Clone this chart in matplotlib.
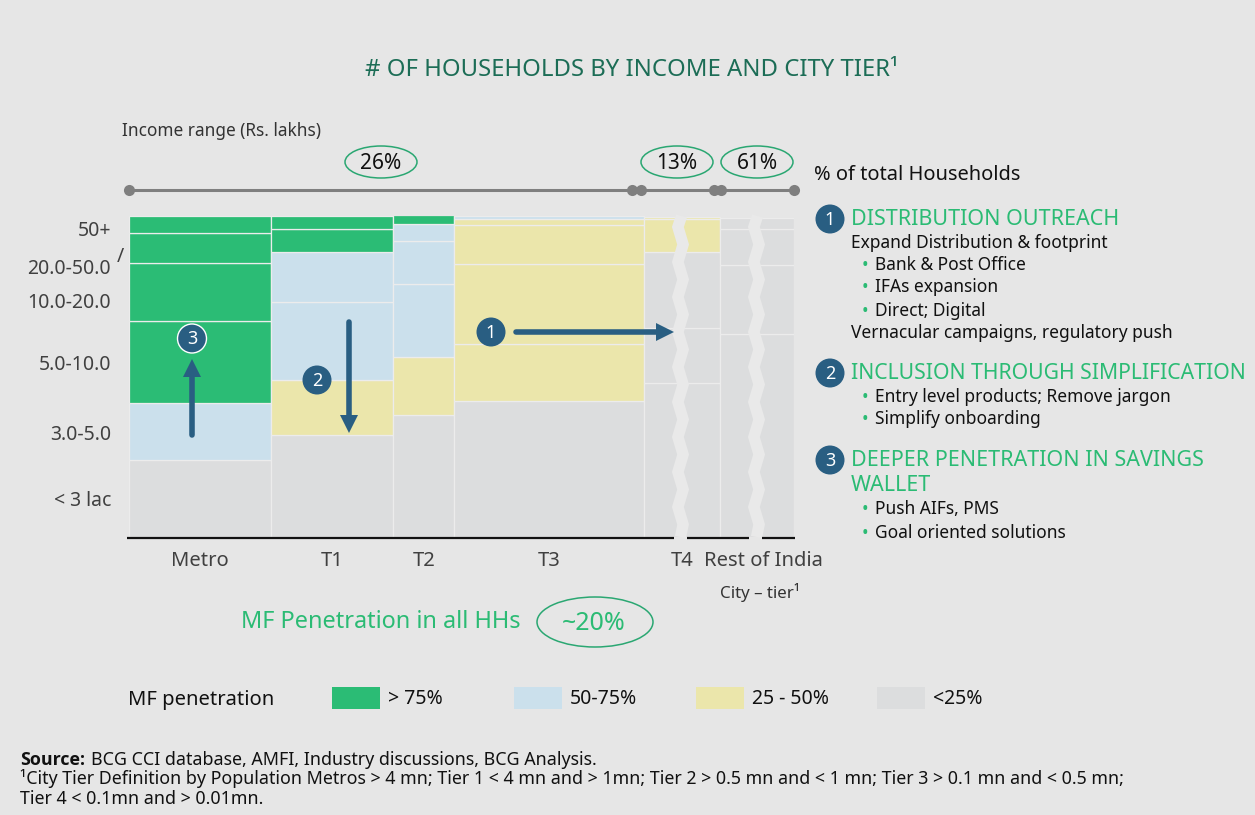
import matplotlib
matplotlib.use('Agg')
import matplotlib.pyplot as plt
from matplotlib.patches import Ellipse, Circle, Rectangle

plt.rcParams['font.family'] = ['Noto Sans', 'DejaVu Sans']

# column widths and stacked shares (bottom to top, % of column height)
cities = ['Metro', 'T1', 'T2', 'T3', 'T4', 'Rest of India']
widths = [141.5, 122, 61.5, 189.5, 76.5, 74]
metro = [23.7, 17.8, 25.5, 18.1, 9.3, 5.6]
t1 = [31.5, 17.4, 24.0, 15.6, 7.2, 4.3]
t2 = [38.0, 18.0, 22.7, 13.4, 5.2, 2.7]
t3 = [42.1, 18.0, 24.9, 12.1, 1.9, 1.0]
t4 = [47.7, 17.4, 23.5, 10.4, 0.6]
rest = [63.2, 21.5, 11.2, 3.4]
metro_bands = ['d', 'c', 'a', 'a', 'a', 'a']
t1_bands = ['d', 'b', 'c', 'c', 'a', 'a']
t2_bands = ['d', 'b', 'c', 'c', 'c', 'a']
t3_bands = ['d', 'b', 'b', 'b', 'b', 'c']
t4_bands = ['d', 'd', 'd', 'b', 'b']
rest_bands = ['d', 'd', 'd', 'd']

income_labels = ['50+', '20.0-50.0', '10.0-20.0', '5.0-10.0', '3.0-5.0', '< 3 lac']
income_y = [229, 267, 302, 363, 434, 500]
share_labels = ['26%', '13%', '61%']
legend_labels = ['> 75%', '50-75%', '25 - 50%', '<25%']

BG = '#e6e6e6'
GREEN = '#2bbb74'
DARK = '#295e82'
band_colors = {'a': '#2bbc75', 'c': '#cbe0ec', 'b': '#ebe6ab', 'd': '#dcddde'}
legend_colors = ['#2bbc75', '#cbe0ec', '#ebe6ab', '#dcddde']

fig = plt.figure(figsize=(12.55, 8.15), dpi=100, facecolor=BG)

# marimekko
ax = fig.add_axes([129 / 1255, 1 - 536.5 / 815, 665 / 1255, 321 / 815])
ax.set_xlim(0, 665)
ax.set_ylim(0, 100)
ax.axis('off')
left = 0
for w, vals, bands in zip(widths, [metro, t1, t2, t3, t4, rest],
                          [metro_bands, t1_bands, t2_bands, t3_bands, t4_bands, rest_bands]):
    bottom = 0
    for v, b in zip(vals, bands):
        ax.bar(left, v, width=w, bottom=bottom, align='edge', color=band_colors[b],
               edgecolor='#ececec', linewidth=0.9)
        bottom += v
    left += w

# pixel overlay for annotations
ov = fig.add_axes([0, 0, 1, 1], facecolor='none')
ov.set_xlim(0, 1255)
ov.set_ylim(815, 0)
ov.axis('off')


def txt(x, y, s, size=13, color='#111111', ha='left', **kw):
    return ov.text(x, y + 1.5, s, fontsize=size, color=color, ha=ha, va='center', **kw)


def badge(x, y, n, edge=BG, lw=0):
    ov.add_patch(Circle((x, y), 14.5, facecolor=DARK, edgecolor=edge, linewidth=lw, zorder=6))
    ov.text(x, y + 1, n, fontsize=13, color='white', ha='center', va='center', zorder=7)


def arrow(x0, y0, x1, y1):
    # straight shaft with a flat triangular head, 18 px long and wide
    dx = (x1 > x0) - (x1 < x0)
    dy = (y1 > y0) - (y1 < y0)
    bx, by = x1 - 18 * dx, y1 - 18 * dy
    ov.plot([x0, bx], [y0, by], color=DARK, lw=4, solid_capstyle='round', zorder=5)
    ov.fill([x1, bx + 9 * dy, bx - 9 * dy], [y1, by + 9 * dx, by - 9 * dx],
            color=DARK, lw=0, zorder=5)


# zigzag breaks over T4 and rest of India
for xc in [680.5, 756.5]:
    ys = [216] + [227 + 17.5 * i for i in range(18)] + [537]
    xs = [xc + 1] + [xc + (-2.6 if i % 2 == 0 else 2.6) for i in range(18)] + [xc]
    ov.plot(xs, ys, color='#e9e9e9', lw=8.2, solid_joinstyle='miter', solid_capstyle='butt', zorder=3)

# baseline
for x0, x1 in [(127, 674), (687, 749), (762, 795)]:
    ov.plot([x0, x1], [537.5, 537.5], color='#111111', lw=1.6, solid_capstyle='butt', zorder=4)

# title and top scale
txt(632, 69, '# OF HOUSEHOLDS BY INCOME AND CITY TIER¹', size=17.2, color='#1c6d56', ha='center')
txt(122, 129, 'Income range (Rs. lakhs)', size=12.4, color='#333333')
for x0, x1 in [(129, 632), (641, 714), (721, 794)]:
    ov.plot([x0, x1], [190, 190], color='#7f7f7f', lw=2.2, zorder=2)
    ov.plot([x0, x1], [190, 190], 'o', color='#7f7f7f', ms=8, mew=0, zorder=3)
for xc, s in zip([381, 677, 757], share_labels):
    ov.add_patch(Ellipse((xc, 162), 72, 32, facecolor='none', edgecolor='#2aa772', linewidth=1.1))
    txt(xc, 162, s, size=15, ha='center')
txt(814, 174, '% of total Households', size=14.4)

# income labels
for y, s in zip(income_y, income_labels):
    txt(111, y, s, size=14, color='#404040', ha='right')
txt(120, 255, '/', size=14, color='#404040', ha='center')

# city labels
for x, s in zip([199.5, 332, 424, 549, 682, 763], cities):
    txt(x, 559.5, s, size=14.5, color='#404040', ha='center')
txt(760, 591, 'City – tier¹', size=12.2, color='#333333', ha='center')

# callouts on the chart
arrow(192, 435, 192, 359)
arrow(349, 322, 349, 433)
arrow(516, 332, 674, 332)
badge(192, 338.5, '3', edge='#ffffff', lw=1)
badge(317, 380, '2')
badge(491, 332, '1')

# right hand text
GH = 15.5
BODY = 12.5
badge(830, 219, '1')
txt(851, 218, 'DISTRIBUTION OUTREACH', size=GH, color=GREEN)
txt(851, 241, 'Expand Distribution & footprint', size=BODY)
for y, s in zip([264, 286, 309], ['Bank & Post Office', 'IFAs expansion', 'Direct; Digital']):
    txt(865, y, '•', size=BODY, color=GREEN, ha='center')
    txt(875, y, s, size=BODY)
txt(851, 331, 'Vernacular campaigns, regulatory push', size=BODY)

badge(830, 373, '2')
txt(851, 372, 'INCLUSION THROUGH SIMPLIFICATION', size=GH * 0.985, color=GREEN)
for y, s in zip([396, 418], ['Entry level products; Remove jargon', 'Simplify onboarding']):
    txt(865, y, '•', size=BODY, color=GREEN, ha='center')
    txt(875, y, s, size=BODY)

badge(830, 460, '3')
txt(851, 459, 'DEEPER PENETRATION IN SAVINGS', size=GH, color=GREEN)
txt(851, 484, 'WALLET', size=GH, color=GREEN)
for y, s in zip([508, 531], ['Push AIFs, PMS', 'Goal oriented solutions']):
    txt(865, y, '•', size=BODY, color=GREEN, ha='center')
    txt(875, y, s, size=BODY)

# MF penetration callout
txt(241, 621, 'MF Penetration in all HHs', size=16.9, color=GREEN)
ov.add_patch(Ellipse((595, 622), 116, 50, facecolor='none', edgecolor='#2aa772', linewidth=1.1))
txt(594, 622, '~20%', size=18, color=GREEN, ha='center')

# legend
txt(128, 698, 'MF penetration', size=14.5)
for x, c, s in zip([332, 514, 696, 877], legend_colors, legend_labels):
    ov.add_patch(Rectangle((x, 687), 48, 22, facecolor=c, edgecolor='none'))
    txt(x + 56, 698, s, size=14)

# footnotes
txt(20, 758.5, 'Source:', size=12.85, family='Open Sans', weight='bold')
txt(91, 758.5, 'BCG CCI database, AMFI, Industry discussions, BCG Analysis.', size=12.85)
txt(20, 777.5, '¹City Tier Definition by Population Metros > 4 mn; Tier 1 < 4 mn and > 1mn; Tier 2 > 0.5 mn and < 1 mn; Tier 3 > 0.1 mn and < 0.5 mn;', size=12.85)
txt(20, 797, 'Tier 4 < 0.1mn and > 0.01mn.', size=12.85)

fig.savefig('out.png', dpi=100, facecolor=BG)
